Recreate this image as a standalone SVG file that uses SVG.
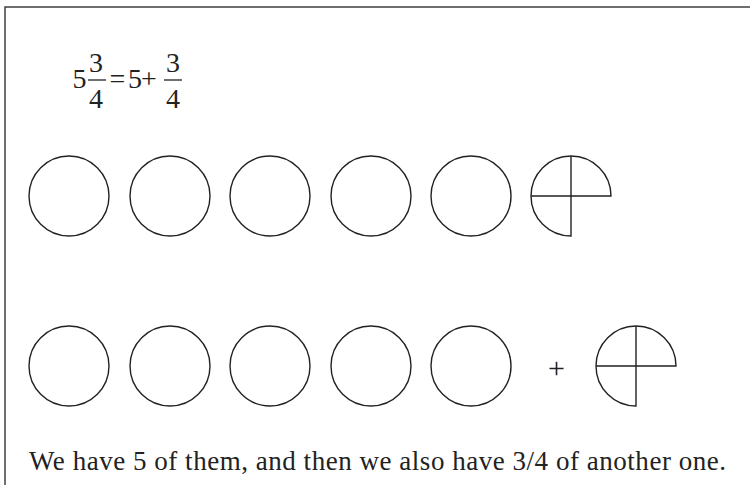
<svg xmlns="http://www.w3.org/2000/svg" width="750" height="485" viewBox="0 0 750 485">
<style>
.t{font-family:"Liberation Serif","Times New Roman",serif;fill:#222}
.eq{font-size:28px}
.c{fill:none;stroke:#222;stroke-width:1.4}
.bar{stroke:#222;stroke-width:1.3}
</style>
<defs>
<circle id="whole" r="40" class="c"/>
<g id="piece">
<path d="M40,0 A40,40 0 1 0 0,40 L0,0 Z" class="c"/>
<path d="M-40,0 H0 M0,-40 V0" class="c"/>
</g>
</defs>
<rect x="5" y="7" width="760" height="500" fill="none" stroke="#333" stroke-width="1.4"/>
<g id="equation" class="t eq" text-anchor="middle">
<text x="79.5" y="88">5</text>
<text x="96" y="72">3</text>
<line x1="88" y1="80" x2="106" y2="80" class="bar"/>
<text x="96" y="108">4</text>
<text x="117.5" y="88">=</text>
<text x="135" y="88">5</text>
<text x="149" y="88">+</text>
<text x="173" y="72">3</text>
<line x1="164" y1="80" x2="182" y2="80" class="bar"/>
<text x="173" y="108">4</text>
</g>
<g id="row1">
<use href="#whole" x="69" y="196"/>
<use href="#whole" x="170" y="196"/>
<use href="#whole" x="270" y="196"/>
<use href="#whole" x="371" y="196"/>
<use href="#whole" x="471" y="196"/>
<use href="#piece" x="571" y="196"/>
</g>
<g id="row2">
<use href="#whole" x="69" y="366"/>
<use href="#whole" x="170" y="366"/>
<use href="#whole" x="270" y="366"/>
<use href="#whole" x="371" y="366"/>
<use href="#whole" x="471" y="366"/>
<text class="t" x="556.5" y="378" font-size="30" text-anchor="middle">+</text>
<use href="#piece" x="636" y="366"/>
</g>
<text id="caption" class="t" x="29" y="470" font-size="27" textLength="697" lengthAdjust="spacing">We have 5 of them, and then we also have 3/4 of another one.</text>
</svg>
